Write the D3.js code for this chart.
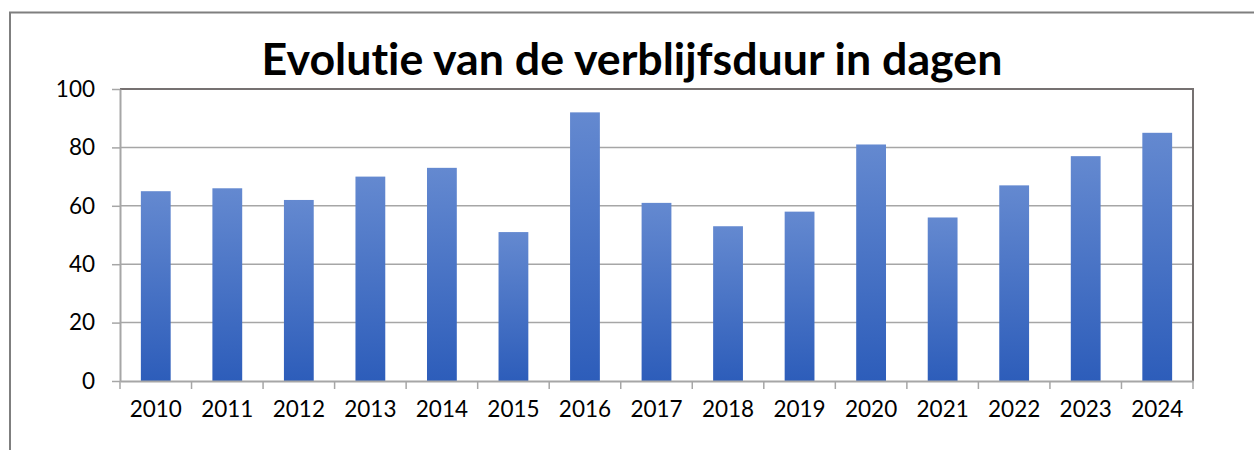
<!DOCTYPE html>
<html><head><meta charset="utf-8">
<script src="https://cdn.jsdelivr.net/npm/d3@7"></script>
<style>html,body{margin:0;padding:0;background:#fff;}svg{display:block;}text{font-variant-ligatures:none;font-feature-settings:"liga" 0,"clig" 0;}</style>
</head><body>
<svg id="c" width="1254" height="450"></svg>
<script>
const categories = ["2010","2011","2012","2013","2014","2015","2016","2017","2018","2019","2020","2021","2022","2023","2024"];
const values = [65,66,62,70,73,51,92,61,53,58,81,56,67,77,85];
const yTicks = [0,20,40,60,80,100];
const title = "Evolutie van de verblijfsduur in dagen";

const svg = d3.select("#c");
const font = "Lato, 'Open Sans', sans-serif";
const m = {left:120, right:1193, top:89, bottom:381};

// outer frame (partial)
svg.append("path").attr("d","M10,450 V12.5 H1254").attr("fill","none").attr("stroke","#7f7f7f").attr("stroke-width",2);

const x = d3.scaleBand().domain(categories).range([m.left,m.right]).paddingInner(1.4/2.4).paddingOuter(0.7/2.4);
const y = d3.scaleLinear().domain([0,100]).range([m.bottom,m.top]);

const defs = svg.append("defs");
const g = defs.append("linearGradient").attr("id","bg").attr("x1",0).attr("y1",0).attr("x2",0).attr("y2",1);
g.append("stop").attr("offset","0%").attr("stop-color","#6489d0");
g.append("stop").attr("offset","100%").attr("stop-color","#2d5dba");

// gridlines
svg.append("g").selectAll("line").data(yTicks.filter(t=>t>0 && t<100)).join("line")
  .attr("x1",m.left).attr("x2",m.right).attr("y1",d=>y(d)).attr("y2",d=>y(d))
  .attr("stroke","#a6a6a6").attr("stroke-width",1.5);

// bars
svg.append("g").selectAll("rect").data(categories).join("rect")
  .attr("x",d=>x(d)).attr("width",x.bandwidth())
  .attr("y",(d,i)=>y(values[i])).attr("height",(d,i)=>y(0)-y(values[i]))
  .attr("fill","url(#bg)");

// plot area top and right border
svg.append("path").attr("d",`M${m.left},${m.top} H${m.right} V${m.bottom}`).attr("fill","none").attr("stroke","#767171").attr("stroke-width",2);

// y axis
const ya = svg.append("g").attr("transform",`translate(${m.left},0)`)
  .call(d3.axisLeft(y).tickValues(yTicks).tickSize(8).tickPadding(17).tickSizeOuter(0));
ya.select(".domain").attr("stroke","#a6a6a6").attr("stroke-width",2);
ya.selectAll(".tick line").attr("stroke","#a6a6a6").attr("stroke-width",1.5);
ya.selectAll("text").attr("font-family",font).attr("font-size",22.5).attr("fill","#000");

// x axis
const xa = svg.append("g").attr("transform",`translate(0,${m.bottom})`)
  .call(d3.axisBottom(x).tickSize(0).tickPadding(20).tickSizeOuter(0));
xa.select(".domain").attr("stroke","#a6a6a6").attr("stroke-width",2);
xa.selectAll("text").attr("font-family",font).attr("font-size",22.5).attr("fill","#000");
const step = x.step();
xa.append("g").selectAll("line").data(d3.range(categories.length+1)).join("line")
  .attr("x1",i=>m.left+i*step).attr("x2",i=>m.left+i*step).attr("y1",0).attr("y2",8)
  .attr("stroke","#a6a6a6").attr("stroke-width",1.5);

// title
const t = svg.append("text").attr("x",632).attr("y",75).attr("text-anchor","middle")
  .attr("font-family",font).attr("font-weight","bold").attr("font-size",40).attr("fill","#000").text(title);
const w = t.node().getComputedTextLength();
t.attr("font-size", 40*741/w);
</script>
</body></html>
